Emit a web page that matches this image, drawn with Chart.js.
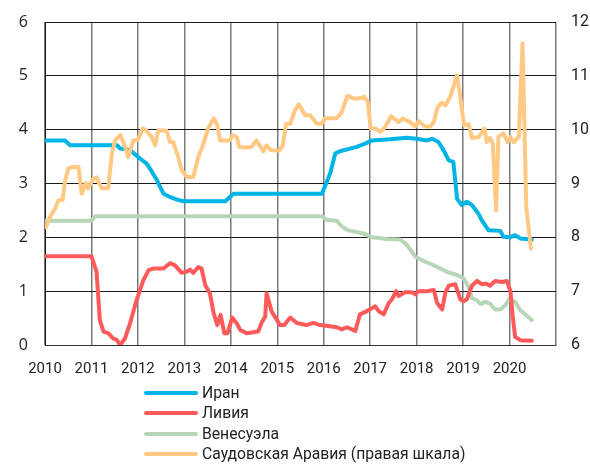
<!DOCTYPE html>
<html><head><meta charset="utf-8">
<script src="https://cdn.jsdelivr.net/npm/chart.js@4.4.0/dist/chart.umd.min.js"></script>
<style>
html,body{margin:0;padding:0;background:#fff;}
#wrap{position:relative;width:590px;height:464px;}
#c{position:absolute;left:0;top:0;}
.lg{position:absolute;left:144px;height:20px;font-family:Roboto,sans-serif;font-size:15.7px;color:#222;white-space:nowrap;}
.lg i{position:absolute;left:0;width:54px;height:4px;border-radius:2px;}
.lg span{position:absolute;left:58px;}
</style></head>
<body><div id="wrap"><canvas id="c" width="590" height="464"></canvas></div>
<script>
const seriesNames = ["Иран", "Ливия", "Венесуэла", "Саудовская Аравия (правая шкала)"];
const xTickLabels = ["2010","2011","2012","2013","2014","2015","2016","2017","2018","2019","2020"];
const leftTicks = [0,1,2,3,4,5,6];
const rightTicks = [6,7,8,9,10,11,12];

const iran = [[2010.0,3.80],[2010.43,3.80],[2010.54,3.71],[2011.55,3.71],[2011.62,3.65],[2011.83,3.62],[2012.05,3.46],[2012.19,3.37],[2012.30,3.22],[2012.41,3.06],[2012.55,2.81],[2012.69,2.75],[2012.84,2.70],[2012.98,2.67],[2013.88,2.67],[2014.06,2.81],[2015.96,2.81],[2016.14,3.19],[2016.25,3.56],[2016.35,3.60],[2016.71,3.68],[2016.89,3.74],[2017.04,3.80],[2017.43,3.82],[2017.79,3.85],[2018.0,3.83],[2018.22,3.80],[2018.33,3.83],[2018.47,3.77],[2018.58,3.62],[2018.69,3.43],[2018.79,3.40],[2018.87,2.72],[2018.97,2.60],[2019.08,2.66],[2019.19,2.60],[2019.33,2.44],[2019.40,2.32],[2019.55,2.13],[2019.80,2.12],[2019.87,2.01],[2020.01,2.00],[2020.12,2.04],[2020.23,1.98],[2020.48,1.96]];

const libya = [[2010.0,1.65],[2011.0,1.65],[2011.11,1.36],[2011.18,0.46],[2011.26,0.25],[2011.36,0.22],[2011.47,0.12],[2011.54,0.10],[2011.62,0.0],[2011.72,0.12],[2011.83,0.40],[2011.97,0.83],[2012.12,1.21],[2012.23,1.39],[2012.33,1.42],[2012.55,1.42],[2012.69,1.52],[2012.80,1.48],[2012.94,1.34],[2013.05,1.36],[2013.12,1.40],[2013.19,1.34],[2013.30,1.45],[2013.37,1.42],[2013.45,1.11],[2013.55,0.96],[2013.63,0.59],[2013.71,0.37],[2013.78,0.56],[2013.86,0.22],[2013.93,0.22],[2014.03,0.51],[2014.13,0.40],[2014.20,0.28],[2014.34,0.22],[2014.59,0.25],[2014.67,0.43],[2014.74,0.53],[2014.77,0.96],[2014.88,0.62],[2015.06,0.37],[2015.15,0.37],[2015.28,0.51],[2015.42,0.41],[2015.63,0.37],[2015.78,0.41],[2015.92,0.37],[2016.14,0.35],[2016.28,0.33],[2016.39,0.29],[2016.50,0.33],[2016.61,0.29],[2016.68,0.26],[2016.78,0.57],[2016.93,0.63],[2017.11,0.72],[2017.18,0.63],[2017.29,0.57],[2017.40,0.78],[2017.47,0.85],[2017.56,1.0],[2017.61,0.91],[2017.75,0.98],[2017.90,0.98],[2017.97,0.94],[2018.04,1.0],[2018.22,1.0],[2018.37,1.02],[2018.44,0.78],[2018.55,0.66],[2018.62,0.98],[2018.69,1.10],[2018.83,1.13],[2018.94,0.85],[2019.01,0.81],[2019.08,0.85],[2019.19,1.10],[2019.30,1.19],[2019.40,1.13],[2019.50,1.14],[2019.58,1.10],[2019.69,1.19],[2019.84,1.17],[2019.94,1.19],[2020.02,1.0],[2020.07,0.52],[2020.12,0.15],[2020.23,0.09],[2020.48,0.08]];

const venezuela = [[2010.0,2.31],[2011.0,2.31],[2011.08,2.39],[2015.96,2.39],[2016.07,2.32],[2016.28,2.31],[2016.39,2.20],[2016.53,2.13],[2016.86,2.07],[2017.04,2.0],[2017.36,1.97],[2017.65,1.96],[2017.79,1.86],[2017.97,1.64],[2018.15,1.56],[2018.37,1.48],[2018.65,1.36],[2018.87,1.30],[2019.01,1.24],[2019.12,1.08],[2019.19,0.87],[2019.30,0.83],[2019.38,0.76],[2019.48,0.80],[2019.58,0.77],[2019.69,0.66],[2019.80,0.66],[2019.91,0.74],[2020.0,0.87],[2020.12,0.80],[2020.23,0.65],[2020.48,0.46]];

const saudi = [[2010.02,8.19],[2010.11,8.38],[2010.22,8.54],[2010.29,8.69],[2010.38,8.70],[2010.43,9.03],[2010.50,9.28],[2010.57,9.30],[2010.72,9.31],[2010.79,8.81],[2010.88,9.01],[2010.93,8.91],[2011.04,9.09],[2011.11,9.11],[2011.22,8.91],[2011.36,8.91],[2011.44,9.56],[2011.51,9.80],[2011.62,9.90],[2011.70,9.74],[2011.79,9.49],[2011.90,9.80],[2012.0,9.81],[2012.10,10.02],[2012.16,10.0],[2012.30,9.86],[2012.37,9.71],[2012.44,9.99],[2012.62,9.98],[2012.69,9.77],[2012.76,9.77],[2012.87,9.49],[2012.94,9.25],[2013.05,9.12],[2013.19,9.12],[2013.30,9.49],[2013.41,9.74],[2013.51,10.02],[2013.63,10.21],[2013.70,10.11],[2013.77,9.80],[2013.98,9.80],[2014.04,9.90],[2014.13,9.86],[2014.18,9.68],[2014.34,9.67],[2014.45,9.68],[2014.55,9.80],[2014.70,9.60],[2014.77,9.71],[2014.86,9.62],[2015.04,9.61],[2015.12,9.71],[2015.19,10.11],[2015.28,10.11],[2015.38,10.36],[2015.46,10.47],[2015.60,10.27],[2015.71,10.27],[2015.85,10.11],[2015.96,10.11],[2016.03,10.21],[2016.28,10.21],[2016.39,10.33],[2016.51,10.63],[2016.64,10.58],[2016.75,10.58],[2016.87,10.61],[2016.95,10.51],[2017.01,10.02],[2017.12,10.02],[2017.22,9.96],[2017.32,10.05],[2017.45,10.25],[2017.61,10.14],[2017.70,10.21],[2017.86,10.14],[2017.97,10.06],[2018.04,10.16],[2018.18,10.06],[2018.29,10.06],[2018.37,10.14],[2018.45,10.42],[2018.54,10.50],[2018.62,10.45],[2018.72,10.61],[2018.87,11.01],[2018.94,10.61],[2019.02,10.08],[2019.12,10.10],[2019.19,9.85],[2019.33,9.86],[2019.46,10.02],[2019.51,9.77],[2019.58,9.85],[2019.64,9.74],[2019.71,8.50],[2019.76,9.87],[2019.87,9.93],[2019.96,9.77],[2020.02,9.86],[2020.09,9.77],[2020.20,9.87],[2020.28,11.60],[2020.36,8.57],[2020.46,7.79]];

const colors = ["#00B4E6", "#FF5A5A", "#B7D6B7", "#FFC983"];

function pts(a){ return a.map(p => ({x:p[0], y:p[1]})); }
function ds(i, data, axis, order){
  return {label: seriesNames[i], data: pts(data), yAxisID: axis, borderColor: colors[i], backgroundColor: colors[i],
    borderWidth: 4, pointRadius: 0, tension: 0, fill: false, borderJoinStyle: 'round', borderCapStyle: 'round', order: order};
}

const chart = new Chart(document.getElementById('c'), {
  type: 'line',
  data: { datasets: [ ds(0, iran, 'y', 2), ds(1, libya, 'y', 3), ds(2, venezuela, 'y', 4), ds(3, saudi, 'y1', 1) ] },
  options: {
    responsive: false, animation: false, devicePixelRatio: 1,
    layout: { padding: { top: 22, left: 0, right: 0, bottom: 0 } },
    plugins: { legend: { display: false }, tooltip: { enabled: false } },
    scales: {
      x: {
        type: 'linear', min: 2010, max: 2021,
        afterBuildTicks: s => { s.ticks = xTickLabels.map(Number).concat([2021]).map(v => ({value: v})); },
        afterFit: s => { s.height = 119; s.paddingLeft = 0; s.paddingRight = 0; },
        ticks: { padding: 15, maxRotation: 0, autoSkip: false, color: '#222',
          font: { family: 'Roboto,sans-serif', size: 15 },
          callback: (v) => xTickLabels.includes(String(v)) ? String(v) : '' },
        grid: { color: '#7a7a7a', lineWidth: 1.5, drawTicks: false },
        border: { color: '#333', width: 1 }
      },
      y: {
        position: 'left', min: 0, max: 6,
        afterBuildTicks: s => { s.ticks = leftTicks.map(v => ({value: v})); },
        afterFit: s => { s.width = 45; s.paddingTop = 0; s.paddingBottom = 0; },
        ticks: { padding: 17, color: '#222', font: { family: '"Open Sans","Noto Sans",sans-serif', size: 16 } },
        grid: { color: '#1a1a1a', lineWidth: 1, drawTicks: false },
        border: { color: '#1a1a1a', width: 1 }
      },
      y1: {
        position: 'right', min: 6, max: 12,
        afterBuildTicks: s => { s.ticks = rightTicks.map(v => ({value: v})); },
        afterFit: s => { s.width = 34; s.paddingTop = 0; s.paddingBottom = 0; },
        ticks: { padding: 15, color: '#222', font: { family: 'Roboto,sans-serif', size: 16 } },
        grid: { display: false, drawTicks: false },
        border: { display: false }
      }
    }
  }
});

// HTML legend built from the chart's datasets
const wrap = document.getElementById('wrap');
const legendY = [392.5, 413, 433.5, 454];
chart.data.datasets.forEach((d, i) => {
  const row = document.createElement('div');
  row.className = 'lg';
  row.style.top = (legendY[i] - 10) + 'px';
  const ln = document.createElement('i');
  ln.style.background = d.borderColor; ln.style.top = '8px';
  const tx = document.createElement('span');
  tx.textContent = d.label; tx.style.top = '0px';
  row.appendChild(ln); row.appendChild(tx);
  wrap.appendChild(row);
});
</script></body></html>
